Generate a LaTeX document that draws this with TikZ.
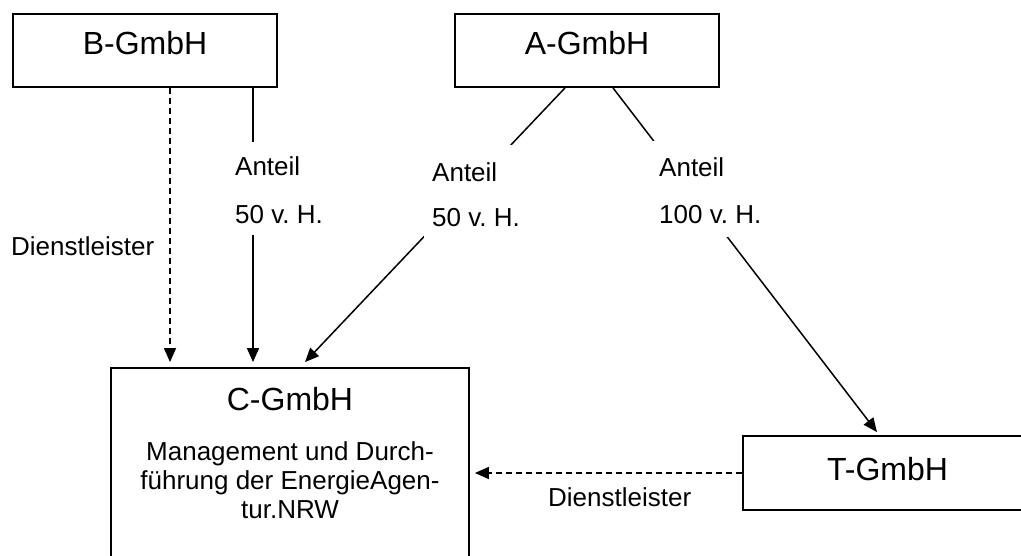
\documentclass[tikz,border=0pt]{standalone}
\usepackage{fontspec}
\setmainfont{Liberation Sans}
\usetikzlibrary{arrows.meta}
\frenchspacing
\begin{document}
\begin{tikzpicture}[x=1pt,y=-1pt,
  box/.style={draw, line width=1.8pt, inner sep=0pt},
  title/.style={font=\fontsize{32}{38}\selectfont, inner sep=0pt, anchor=base},
  txt/.style={font=\fontsize{26}{29}\selectfont, inner sep=0pt},
  lbl/.style={fill=white, inner xsep=8pt, inner ysep=0pt, align=left, anchor=north west},
  conn/.style={line width=1.5pt, -{Triangle[length=14pt,width=12pt]}},
  dashedline/.style={dash pattern=on 6pt off 4pt}
]
\useasboundingbox (0,0) rectangle (1021,556);
\clip (0,0) rectangle (1021,556);

% boxes
\node[box, minimum width=264pt, minimum height=73pt] (B) at (145,50.5) {};
\node[title] (Bt) at (145,55) {B-GmbH};
\node[box, minimum width=264pt, minimum height=73pt] (A) at (587,50.5) {};
\node[title] (At) at (587,55) {A-GmbH};
\node[box, minimum width=358pt, minimum height=220pt] (C) at (290,478) {};
\node[title] (Ct) at (290,410) {C-GmbH};
\node[txt, align=center, anchor=north] (Cd) at (290,440)
  {\rule{0pt}{20pt}Management und Durch-\\führung der EnergieAgen-\\tur.NRW};
\node[box, minimum width=289pt, minimum height=74pt] (T) at (887.5,473) {};
\node[title] (Tt) at (887.5,480.5) {T-GmbH};

% helper x positions
\coordinate (xb1) at (170,0);
\coordinate (xb2) at (253,0);
\coordinate (xa1) at (565,0);
\coordinate (xc1) at (300.3,0);
\coordinate (xa2) at (613,0);
\coordinate (xt1) at (879.3,0);

% connectors
\draw[conn, dashedline, shorten >=5pt] (B.south -| xb1) -- (C.north -| xb1);
\draw[conn, shorten >=5pt] (B.south -| xb2) -- (C.north -| xb2);
\draw[conn, shorten >=6.9pt] (A.south -| xa1) -- (C.north -| xc1);
\draw[conn, shorten >=3.8pt] (A.south -| xa2) -- (T.north -| xt1);
\draw[conn, dashedline, shorten >=5pt] (T.west) -- (T.west -| C.east);

% labels
\node[lbl, font=\fontsize{26}{48}\selectfont] (lb) at (227,142)
  {\rule{0pt}{33pt}Anteil\\50 v. H.\rule[-12pt]{0pt}{12pt}};
\node[lbl, font=\fontsize{26}{45}\selectfont] (la1) at (424,145)
  {\rule{0pt}{36pt}Anteil\\50 v. H.\rule[-12pt]{0pt}{12pt}};
\node[lbl, font=\fontsize{26}{47}\selectfont] (la2) at (651,141)
  {\rule{0pt}{35pt}Anteil\\100 v. H.\rule[-14pt]{0pt}{14pt}};
\node[txt, anchor=base west] (dl1) at (11,256) {Dienstleister};
\node[txt, anchor=base west] (dl2) at (548,506) {Dienstleister};
\end{tikzpicture}
\end{document}
